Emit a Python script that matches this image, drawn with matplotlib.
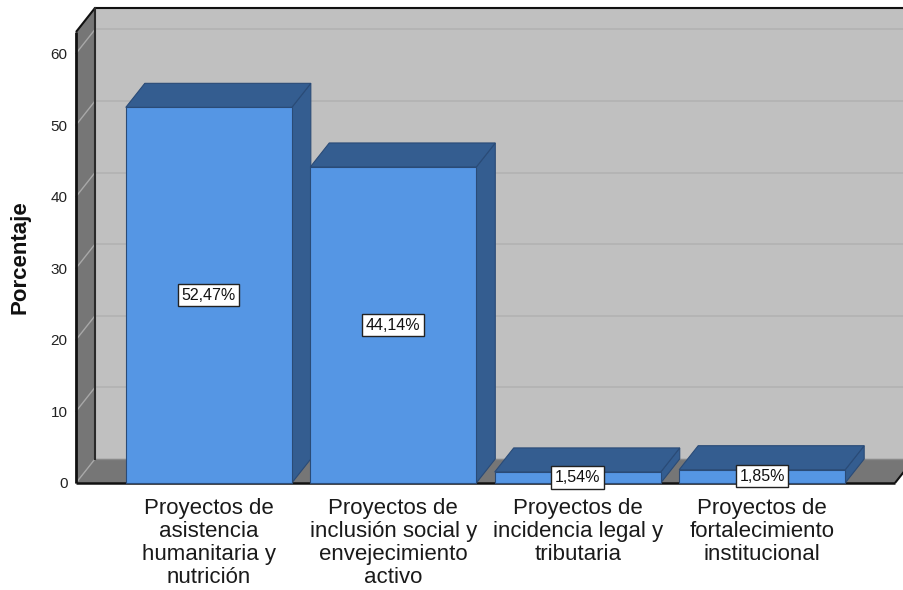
import matplotlib
matplotlib.use("Agg")
import matplotlib.pyplot as plt
from matplotlib.patches import Polygon, Rectangle
from matplotlib import transforms

plt.rcParams['font.family'] = ['Liberation Sans', 'DejaVu Sans']

# ---- data ----
categories = [
    "Proyectos de\nasistencia\nhumanitaria y\nnutrición",
    "Proyectos de\ninclusión social y\nenvejecimiento\nactivo",
    "Proyectos de\nincidencia legal y\ntributaria",
    "Proyectos de\nfortalecimiento\ninstitucional",
]
values = [52.47, 44.14, 1.54, 1.85]
value_labels = ["52,47%", "44,14%", "1,54%", "1,85%"]
yticks = [0, 10, 20, 30, 40, 50, 60]
ylabel = "Porcentaje"

# ---- style ----
BAR_W = 0.9
DX, DY = 0.103, 3.36          # depth offset (x in category units, y in value units)
XMIN, XMAX = -0.72, 3.72
YMAX = 63.0
FRONT = "#5596E4"
DARK = "#345D90"
EDGE = "#2A4B77"
WALL = "#C0C0C0"
SIDE = "#767676"

fig = plt.figure(figsize=(9.04, 5.90), dpi=100)
ax = fig.add_axes([76 / 904, 107 / 590, 819 / 904, 451 / 590])
ax.set_xlim(XMIN, XMAX)
ax.set_ylim(0, YMAX)
for s in ax.spines.values():
    s.set_visible(False)
ax.set_facecolor("none")

# back wall
ax.add_patch(Rectangle((XMIN + DX, DY), (XMAX - XMIN), YMAX, facecolor=WALL,
                       edgecolor="none", zorder=0, clip_on=False))
# floor
ax.add_patch(Polygon([(XMIN, 0), (XMAX, 0), (XMAX + DX, DY), (XMIN + DX, DY)],
                     closed=True, facecolor=SIDE, edgecolor="none", zorder=1, clip_on=False))
# left wall
ax.add_patch(Polygon([(XMIN, 0), (XMIN + DX, DY), (XMIN + DX, YMAX + DY), (XMIN, YMAX)],
                     closed=True, facecolor=SIDE, edgecolor="none", zorder=1, clip_on=False))

# gridlines
for v in yticks[1:]:
    ax.plot([XMIN + DX, XMAX + DX], [v + DY, v + DY], color="#B2B2B2", lw=1.2,
            zorder=0.5, clip_on=False)
    ax.plot([XMIN, XMIN + DX], [v, v + DY], color="#A8A8A8", lw=1.0, zorder=1.5,
            clip_on=False)
ax.plot([XMIN, XMIN + DX], [0, DY], color="#A8A8A8", lw=1.0, zorder=1.5, clip_on=False)
ax.plot([XMIN + DX, XMAX + DX], [DY, DY], color="#8A8A8A", lw=1.0, zorder=1.5, clip_on=False)

# outlines
k = dict(color="#111111", zorder=2, clip_on=False, solid_capstyle="butt")
ax.plot([XMIN, XMIN], [0, YMAX], lw=2.0, **k)
ax.plot([XMIN, XMIN + DX], [YMAX, YMAX + DY], lw=1.5, **k)
ax.plot([XMIN + DX, XMAX + DX], [YMAX + DY, YMAX + DY], lw=1.5, **k)
ax.plot([XMIN + DX, XMIN + DX], [DY, YMAX + DY], lw=1.5, color="#2A2A2A", zorder=2, clip_on=False)
ax.plot([XMIN, XMAX], [0, 0], lw=1.8, **k)
ax.plot([XMAX, XMAX + DX], [0, DY], lw=1.5, **k)

# bars
for i, v in enumerate(values):
    x0, x1 = i - BAR_W / 2, i + BAR_W / 2
    z = 3 + i
    ax.add_patch(Polygon([(x1, 0), (x1 + DX, DY), (x1 + DX, v + DY), (x1, v)], closed=True,
                         facecolor=DARK, edgecolor=EDGE, lw=0.8, zorder=z, clip_on=False))
    ax.add_patch(Polygon([(x0, v), (x1, v), (x1 + DX, v + DY), (x0 + DX, v + DY)], closed=True,
                         facecolor=DARK, edgecolor=EDGE, lw=0.8, zorder=z, clip_on=False))
    ax.add_patch(Rectangle((x0, 0), BAR_W, v, facecolor=FRONT, edgecolor=EDGE, lw=0.8,
                           zorder=z, clip_on=False))
    ax.text(i, v / 2, value_labels[i], ha="center", va="center", fontsize=11.5,
            color="#111111", zorder=20,
            bbox=dict(boxstyle="square,pad=0.22", facecolor="white", edgecolor="#222222", lw=1.0))

# category labels (one text per line, evenly spaced)
ax.set_xticks([])
xtr = ax.get_xaxis_transform()
for i, lab in enumerate(categories):
    for j, line in enumerate(lab.split("\n")):
        tr = transforms.offset_copy(xtr, fig=fig, x=0, y=-(31 + 23 * j), units="dots")
        ax.text(i, 0, line, transform=tr, ha="center", va="baseline", fontsize=16,
                color="#1A1A1A", clip_on=False)

# y axis
ax.set_yticks(yticks)
ax.set_yticklabels([str(t) for t in yticks])
ax.tick_params(axis="y", length=0, pad=6, labelsize=11, labelcolor="#222222")
ax.set_ylabel(ylabel, fontsize=16, fontweight="bold", color="#111111")
ax.yaxis.label.set_va("center")
ax.yaxis.set_label_coords(-0.068, 0.5)

fig.savefig("out.png", dpi=100)
